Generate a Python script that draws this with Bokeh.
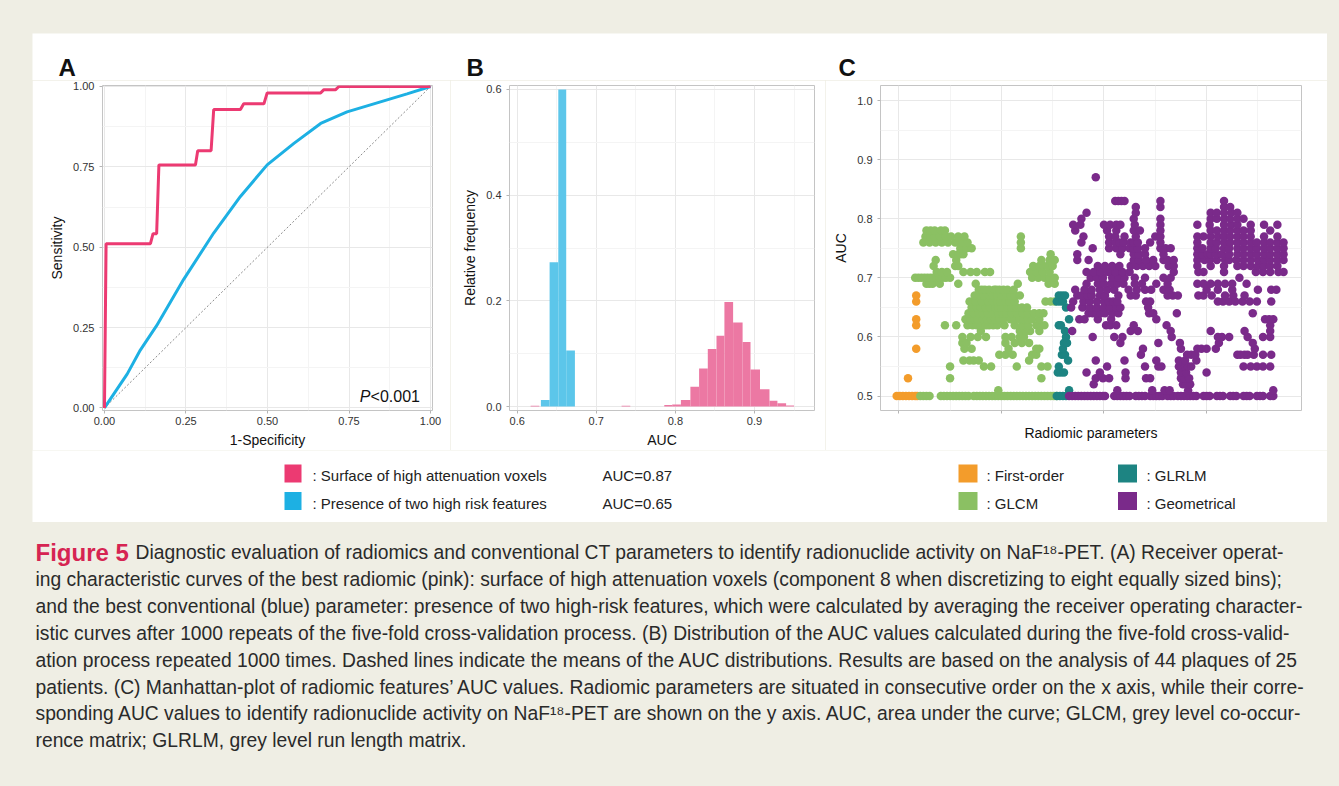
from bokeh.plotting import figure
from bokeh.layouts import row, column
from bokeh.models import Range1d, FixedTicker, PrintfTickFormatter, Spacer
from bokeh.core.properties import value
from bokeh.embed import file_html
from bokeh.resources import INLINE

# ---------------- Panel A: ROC curves ----------------
roc_ticks = [0.0, 0.25, 0.5, 0.75, 1.0]
roc_pink_fpr = [0.0, 0.005, 0.141, 0.149, 0.160, 0.167, 0.279, 0.286, 0.327, 0.335,
                0.417, 0.427, 0.489, 0.499, 0.663, 0.673, 0.709, 0.719, 1.0]
roc_pink_tpr = [0.0, 0.511, 0.511, 0.542, 0.542, 0.756, 0.756, 0.800, 0.800, 0.928,
                0.928, 0.946, 0.946, 0.980, 0.980, 0.990, 0.990, 1.0, 1.0]
roc_blue_fpr = [0.0, 0.07, 0.11, 0.16, 0.243, 0.335, 0.417, 0.499, 0.581, 0.663,
                0.744, 0.826, 0.928, 1.0]
roc_blue_tpr = [0.0, 0.106, 0.18, 0.256, 0.40, 0.544, 0.658, 0.756, 0.823, 0.885,
                0.921, 0.946, 0.977, 1.0]
chance_x = [0.0, 1.0]
chance_y = [0.0, 1.0]

# ---------------- Panel B: AUC histograms ----------------
hist_blue_left = [0.630, 0.641, 0.652, 0.662]
hist_blue_right = [0.641, 0.652, 0.662, 0.673]
hist_blue_freq = [0.0125, 0.273, 0.600, 0.106]
hist_pink_left = [0.617, 0.732, 0.786, 0.796, 0.807, 0.819, 0.830, 0.841, 0.852, 0.862,
                  0.873, 0.885, 0.895, 0.907, 0.919, 0.929, 0.940]
hist_pink_right = [0.628, 0.743, 0.796, 0.807, 0.819, 0.830, 0.841, 0.852, 0.862, 0.873,
                   0.885, 0.895, 0.907, 0.919, 0.929, 0.940, 0.950]
hist_pink_freq = [0.0015, 0.0015, 0.003, 0.004, 0.0125, 0.0375, 0.072, 0.109, 0.134, 0.198,
                  0.159, 0.122, 0.070, 0.0325, 0.011, 0.006, 0.002]

# ---------------- Panel C: Manhattan plot (AUC, parameter positions) ----------------
first_order_rows = [
    (0.50, [-2, 1, 4, 7, 10, 13, 16, 18]),
    (0.53, [9]),
    (0.58, [17]),
    (0.62, [17]), (0.63, [17]), (0.66, [17]), (0.67, [17]),
]
glcm_rows = [
    (0.50, [21, 24, 27, 30, 41, 44, 47, 50, 53, 56, 59, 62, 65, 68, 73, 76, 79, 82, 85, 88, 91,
            94, 97, 100, 103, 106, 109, 112, 115, 118, 121, 124, 127, 130, 133, 136, 139, 142,
            145, 148, 151, 154]),
    (0.51, [97]),
    (0.53, [50, 139]),
    (0.55, [50, 83, 90, 115, 139, 145]),
    (0.56, [63, 69, 73, 78, 127]),
    (0.57, [98, 104, 111, 130, 134]),
    (0.58, [64, 71, 107, 134, 137]),
    (0.59, [62, 66, 104, 113, 120, 127]),
    (0.60, [62, 70, 77, 85, 104, 110, 118, 122]),
    (0.61, [80, 118, 124, 128, 137]),
    (0.62, [45, 56, 67, 72, 76, 80, 85, 88, 92, 96, 103, 113, 120, 126, 134, 138, 142]),
    (0.63, [65, 70, 74, 77, 82, 86, 90, 94, 98, 102, 109, 113, 118, 122, 126, 130, 137]),
    (0.64, [68, 73, 78, 82, 87, 92, 97, 101, 105, 110, 115, 121, 126, 132, 137, 141]),
    (0.65, [71, 76, 80, 85, 89, 94, 97, 100, 106, 110, 115, 120, 125]),
    (0.66, [69, 75, 81, 87, 92, 96, 99, 104, 108, 113, 143, 148, 152]),
    (0.67, [74, 79, 83, 88, 92, 96, 100, 105, 109, 113, 118]),
    (0.68, [78, 81, 84, 88, 93, 95, 98, 102, 106, 112]),
    (0.69, [27, 30, 33, 40, 58, 75, 116, 146, 152]),
    (0.70, [16, 19, 22, 25, 28, 31, 34, 37, 40, 43, 46, 50, 130, 136, 142, 147, 152]),
    (0.71, [37, 42, 47, 63, 70, 76, 84, 89, 128, 134, 140, 147]),
    (0.72, [34, 55, 58, 131, 137, 141, 145, 150]),
    (0.73, [36, 56, 139, 147, 152]),
    (0.74, [53, 58, 60, 63, 148]),
    (0.75, [60, 66, 71, 119]),
    (0.76, [24, 30, 36, 42, 48, 55, 61, 67, 119]),
    (0.77, [26, 31, 35, 40, 46, 51, 58, 64, 119]),
    (0.78, [27, 31, 35, 41, 45]),
]
glrlm_rows = [
    (0.50, [154, 157, 160, 163]),
    (0.51, [166]),
    (0.54, [155, 158, 161]),
    (0.55, [156]),
    (0.56, [165]),
    (0.57, [159, 162]),
    (0.58, [160]),
    (0.59, [161, 164]),
    (0.60, [163]),
    (0.61, [162]),
    (0.62, [156, 158]),
    (0.63, [166]),
    (0.65, [163]),
    (0.66, [154, 157, 160]),
    (0.67, [156, 159, 162]),
]
geometrical_rows = [
    (0.50, [166, 169, 172, 175, 178, 181, 184, 187, 190, 193, 196, 199, 201, 210, 213, 216, 219,
            222, 225, 231, 234, 237, 240, 245, 248, 251, 254, 257, 262, 265, 268, 272, 275, 278,
            281, 284, 287, 290, 297, 300, 303, 310, 313, 316, 323, 326, 329, 336, 339, 342, 349,
            352, 355, 362, 365]),
    (0.51, [213, 247, 259, 264, 282, 365]),
    (0.52, [190, 277, 280, 284]),
    (0.53, [192, 199, 205, 221, 241, 245, 275, 278, 283]),
    (0.54, [183, 196, 221, 275, 280, 300]),
    (0.55, [203, 240, 253, 256, 273, 276, 279, 282, 285, 336, 343, 349, 355, 362]),
    (0.56, [192, 220, 251, 273, 279, 290]),
    (0.57, [236, 281, 285, 289, 330, 333, 337, 340, 346, 355, 363]),
    (0.58, [238, 275, 291, 295, 300, 309, 347]),
    (0.59, [216, 253, 274, 312, 345]),
    (0.60, [189, 210, 218, 266, 311, 315, 322, 340, 355, 362]),
    (0.61, [169, 226, 233, 265, 304, 337, 362]),
    (0.62, [202, 206, 212, 229, 261, 362]),
    (0.63, [176, 181, 194, 207, 251, 357, 361, 365]),
    (0.64, [185, 189, 193, 197, 201, 208, 214, 244, 248, 271, 345]),
    (0.65, [168, 179, 186, 193, 200, 206, 212, 216, 243]),
    (0.66, [170, 180, 186, 193, 200, 205, 209, 213, 241, 245, 311, 316, 322, 328, 335, 342, 349, 363]),
    (0.67, [174, 178, 184, 188, 196, 201, 214, 226, 231, 262, 267, 272, 292, 297, 305, 318, 326, 337]),
    (0.68, [172, 181, 188, 196, 203, 210, 224, 232, 240, 246, 258, 264, 300, 311, 325, 350, 363, 368]),
    (0.69, [183, 194, 200, 207, 213, 219, 230, 237, 251, 262, 291, 297, 304, 311, 318, 325, 339]),
    (0.70, [187, 193, 199, 208, 214, 220, 230, 240, 258, 265, 332]),
    (0.71, [183, 190, 197, 204, 211, 218, 225, 268, 292, 297, 317, 348, 355, 362, 370, 375]),
    (0.72, [194, 201, 208, 215, 226, 232, 238, 244, 250, 263, 268, 291, 304, 317, 330, 336, 343,
            350, 356, 362, 369]),
    (0.73, [174, 185, 229, 234, 241, 248, 258, 262, 268, 291, 298, 303, 310, 318, 322, 329, 336,
            343, 350, 356, 362, 369, 375]),
    (0.74, [174, 216, 229, 234, 240, 258, 291, 296, 301, 304, 309, 315, 322, 330, 336, 343, 349,
            356, 362, 369, 375]),
    (0.75, [189, 205, 212, 218, 225, 229, 233, 240, 255, 260, 265, 291, 296, 304, 309, 317, 322,
            330, 336, 343, 349, 356, 362, 369, 375]),
    (0.76, [178, 205, 211, 215, 219, 226, 229, 233, 245, 255, 291, 304, 310, 317, 323, 330, 336,
            343, 349, 356, 362, 369, 375]),
    (0.77, [180, 205, 211, 220, 231, 250, 255, 291, 297, 304, 311, 317, 323, 330, 336, 343, 356, 369]),
    (0.78, [172, 203, 212, 229, 235, 255, 304, 310, 317, 323, 330, 336, 343, 362]),
    (0.79, [170, 177, 200, 206, 212, 216, 230, 255, 291, 303, 317, 324, 330, 343, 356, 369]),
    (0.80, [178, 229, 255, 304, 310, 317, 323, 330, 336]),
    (0.81, [183, 231, 304, 310, 317, 324, 330]),
    (0.82, [231, 255, 317, 323]),
    (0.83, [211, 214, 217, 220, 255, 317]),
    (0.87, [192]),
]
manhattan_groups = ["First-order", "GLCM", "GLRLM", "Geometrical"]
manhattan_colors = ["#f39c2b", "#8bc063", "#1d8482", "#7a2a8a"]
manhattan_rows = [first_order_rows, glcm_rows, glrlm_rows, geometrical_rows]

legend_ab_labels = [": Surface of high attenuation voxels", ": Presence of two high risk features"]
legend_ab_auc = ["AUC=0.87", "AUC=0.65"]

caption_lines = [
    "Diagnostic evaluation of radiomics and conventional CT parameters to identify radionuclide activity on NaF\u00b9\u2078-PET. (A) Receiver operat-",
    "ing characteristic curves of the best radiomic (pink): surface of high attenuation voxels (component 8 when discretizing to eight equally sized bins);",
    "and the best conventional (blue) parameter: presence of two high-risk features, which were calculated by averaging the receiver operating character-",
    "istic curves after 1000 repeats of the five-fold cross-validation process. (B) Distribution of the AUC values calculated during the five-fold cross-valid-",
    "ation process repeated 1000 times. Dashed lines indicate the means of the AUC distributions. Results are based on the analysis of 44 plaques of 25",
    "patients. (C) Manhattan-plot of radiomic features\u2019 AUC values. Radiomic parameters are situated in consecutive order on the x axis, while their corre-",
    "sponding AUC values to identify radionuclide activity on NaF\u00b9\u2078-PET are shown on the y axis. AUC, area under the curve; GLCM, grey level co-occur-",
    "rence matrix; GLRLM, grey level run length matrix.",
]

PINK_LINE = "#ec3a72"
BLUE_LINE = "#1db0e3"
PINK_BAR = "#ec78a3"
BLUE_BAR = "#5cc6ea"
BEIGE = "#efeee4"
FONT = "Liberation Sans"
GRID_MAJOR = "#e8e8e8"
GRID_MINOR = "#f4f4f4"
BORDER = "#c4c4c4"


def style_panel(p, xticks, xminor, yticks, yminor):
    p.background_fill_color = "white"
    p.border_fill_color = "white"
    p.outline_line_color = BORDER
    p.outline_line_width = 1
    p.xaxis.ticker = FixedTicker(ticks=xticks, minor_ticks=xminor)
    p.yaxis.ticker = FixedTicker(ticks=yticks, minor_ticks=yminor)
    for ax in (p.xaxis[0], p.yaxis[0]):
        ax.axis_line_color = None
        ax.major_tick_line_color = "#b5b5b5"
        ax.major_tick_out = 3
        ax.major_tick_in = 0
        ax.minor_tick_line_color = None
        ax.major_label_text_font = FONT
        ax.major_label_text_font_size = "11px"
        ax.major_label_text_color = "#333333"
        ax.axis_label_text_font = FONT
        ax.axis_label_text_font_size = "14px"
        ax.axis_label_text_font_style = "normal"
        ax.axis_label_text_color = "#111111"
    p.xaxis.major_label_standoff = 2
    p.yaxis.major_label_standoff = 4
    p.xaxis.axis_label_standoff = 4
    p.yaxis.axis_label_standoff = 5
    p.xgrid.grid_line_color = GRID_MAJOR
    p.ygrid.grid_line_color = GRID_MAJOR
    p.xgrid.minor_grid_line_color = GRID_MINOR
    p.ygrid.minor_grid_line_color = GRID_MINOR


PANEL_H = 370

# ---- Panel A
pa = figure(width=418, height=PANEL_H, x_range=Range1d(-0.006, 1.006), y_range=Range1d(-0.008, 1.003),
            output_backend="svg", toolbar_location=None,
            min_border_left=70, min_border_right=18, min_border_top=5, min_border_bottom=38)
style_panel(pa, roc_ticks, [0.125, 0.375, 0.625, 0.875], roc_ticks, [0.125, 0.375, 0.625, 0.875])
pa.xaxis.formatter = PrintfTickFormatter(format="%.2f")
pa.yaxis.formatter = PrintfTickFormatter(format="%.2f")
pa.xaxis.axis_label = "1-Specificity"
pa.yaxis.axis_label = "Sensitivity"
pa.line(chance_x, chance_y, line_color="#8a8a8a", line_dash="2 2", line_width=1)
pa.line(roc_blue_fpr, roc_blue_tpr, line_color=BLUE_LINE, line_width=3)
pa.line(roc_pink_fpr, roc_pink_tpr, line_color=PINK_LINE, line_width=3)
pa.text(x=[0.816], y=[0.036], text=["P"], text_font=value(FONT), text_font_style="italic",
        text_font_size="16px", text_align="right", text_baseline="middle", text_color="#111111")
pa.text(x=[0.816], y=[0.036], text=["<0.001"], text_font=value(FONT),
        text_font_size="16px", text_align="left", text_baseline="middle", text_color="#111111")

# ---- Panel B
pb = figure(width=375, height=PANEL_H, x_range=Range1d(0.5903, 0.9759), y_range=Range1d(-0.0075, 0.6075),
            output_backend="svg", toolbar_location=None,
            min_border_left=59, min_border_right=11, min_border_top=5, min_border_bottom=37)
style_panel(pb, [0.6, 0.7, 0.8, 0.9], [0.65, 0.75, 0.85, 0.95], [0.0, 0.2, 0.4, 0.6], [0.1, 0.3, 0.5])
pb.xaxis.formatter = PrintfTickFormatter(format="%.1f")
pb.yaxis.formatter = PrintfTickFormatter(format="%.1f")
pb.xaxis.axis_label = "AUC"
pb.yaxis.axis_label = "Relative frequency"
pb.quad(left=hist_pink_left, right=hist_pink_right, bottom=0, top=hist_pink_freq,
        fill_color=PINK_BAR, line_color=None)
pb.quad(left=hist_blue_left, right=hist_blue_right, bottom=0, top=hist_blue_freq,
        fill_color=BLUE_BAR, line_color=None)

# ---- Panel C
pc = figure(width=502, height=PANEL_H, x_range=Range1d(-17.8, 392.5), y_range=Range1d(0.4756, 1.0254),
            output_backend="svg", toolbar_location=None,
            min_border_left=55, min_border_right=26, min_border_top=2, min_border_bottom=37)
style_panel(pc, [0, 100, 200, 300], [50, 150, 250, 350], [0.5, 0.6, 0.7, 0.8, 0.9, 1.0],
            [0.55, 0.65, 0.75, 0.85, 0.95])
pc.yaxis.formatter = PrintfTickFormatter(format="%.1f")
pc.xaxis.major_label_overrides = {0: "", 100: "", 200: "", 300: ""}
pc.xaxis.major_label_text_font_size = "0px"
pc.xaxis.major_label_standoff = 0
pc.xaxis.axis_label_standoff = 10
pc.xaxis.axis_label = "Radiomic parameters"
pc.yaxis.axis_label = "AUC"
for rows_, col in zip(manhattan_rows, manhattan_colors):
    xs = [x for auc, xl in rows_ for x in xl]
    ys = [auc for auc, xl in rows_ for x in xl]
    pc.scatter(xs, ys, marker="circle", size=8.5, fill_color=col, line_color=None)


def canvas(w, h, bg):
    f = figure(width=w, height=h, x_range=Range1d(0, w), y_range=Range1d(h, 0),
               output_backend="svg", toolbar_location=None, min_border=0,
               x_axis_type=None, y_axis_type=None)
    f.grid.visible = False
    f.outline_line_color = None
    f.background_fill_color = bg
    f.border_fill_color = bg
    return f


# ---- header with panel letters (coordinates: image px minus (32, 33))
header = canvas(1295, 47, "white")
header.text(x=[26, 434, 806], y=[33.5, 33.5, 33.5], text=["A", "B", "C"], text_font=value(FONT),
            text_font_style="bold", text_font_size="24px", text_baseline="middle",
            text_color="#111111")

# ---- legends (coordinates: image px minus (32, 450))
leg = canvas(1295, 72, "white")
leg.rect(x=[260.5, 260.5], y=[23, 50.5], width=17, height=18, fill_color=[PINK_LINE, BLUE_LINE],
         line_color=None)
leg.text(x=[280, 280], y=[25, 52.5], text=legend_ab_labels, text_font=value(FONT),
         text_font_size="15px", text_baseline="middle", text_color="#222222")
leg.text(x=[570, 570], y=[25, 52.5], text=legend_ab_auc, text_font=value(FONT),
         text_font_size="15px", text_baseline="middle", text_color="#222222")
leg.rect(x=[935.5, 935.5, 1095, 1095], y=[23, 50.5, 23, 50.5], width=19, height=18,
         fill_color=[manhattan_colors[0], manhattan_colors[1], manhattan_colors[2], manhattan_colors[3]],
         line_color=None)
leg.text(x=[954, 954, 1114, 1114], y=[25, 52.5, 25, 52.5],
         text=[": " + manhattan_groups[0], ": " + manhattan_groups[1],
               ": " + manhattan_groups[2], ": " + manhattan_groups[3]],
         text_font=value(FONT), text_font_size="15px", text_baseline="middle", text_color="#222222")

# ---- caption (coordinates: image px minus (0, 522))
cap = canvas(1337, 262, BEIGE)
cap.text(x=[35], y=[30], text=["Figure 5"], text_font=value(FONT),
         text_font_style="bold", text_font_size="24px", text_baseline="middle", text_color="#d62452")
line_y = [30, 57, 84, 111, 138, 165, 191, 218]
cap.text(x=[135] + [35] * 7, y=line_y, text=caption_lines, text_font=value(FONT),
         text_font_size="19.3px", text_baseline="middle", text_color="#2a2a2a")

layout = column(
    Spacer(width=1337, height=33),
    row(Spacer(width=32, height=47), header, Spacer(width=10, height=47)),
    row(Spacer(width=32, height=PANEL_H), pa, pb, pc, Spacer(width=10, height=PANEL_H)),
    row(Spacer(width=32, height=72), leg, Spacer(width=10, height=72)),
    cap,
)

html = file_html(layout, INLINE, title="Figure 5")
i = html.rfind("</head>")
if i >= 0:
    html = html[:i] + "<style>html, body { background-color: %s !important; }</style>" % BEIGE + html[i:]
open("out.html", "w").write(html)
